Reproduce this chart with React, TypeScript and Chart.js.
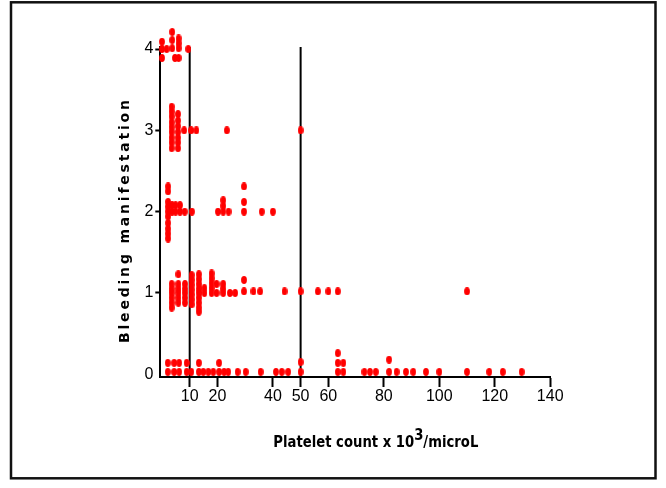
import React, { useEffect, useRef } from "react";
import { Chart, registerables } from "chart.js";

Chart.register(...registerables);

// ---- axis / labels ----
const X_TICKS = [10, 20, 40, 50, 60, 80, 100, 120, 140];
const Y_TICKS = [0, 1, 2, 3, 4];
const X_MIN = -0.6;
const X_MAX = 140;
const Y_MIN = -0.033;
const Y_MAX = 4.025;
const CUTOFF_LINES = [10, 50];
const X_TITLE_PARTS = ["Platelet count x 10", "3", "/microL"];
const Y_TITLE = "Bleeding manifestation";

// ---- data: [platelet count x10^3/microL, bleeding grade (stacked dot-plot position)] ----
const GRADE_4: [number, number][] = [
  [0, 4.09], [0, 4.0], [0, 3.89], [1.7, 4.0],
  [3.7, 4.21], [3.7, 4.11], [3.7, 4.01], [4.7, 3.89],
  [6.0, 4.13], [6.0, 4.07], [6.0, 4.01], [6.0, 3.89], [9.5, 4.0],
];
const GRADE_3: [number, number][] = [
  [3.5, 3.29], [3.5, 3.23], [3.5, 3.17], [3.5, 3.1], [3.5, 3.04], [3.5, 2.98], [3.5, 2.91], [3.5, 2.85], [3.5, 2.78],
  [5.8, 3.2], [5.8, 3.12], [5.8, 3.05], [5.8, 2.98], [5.8, 2.91], [5.8, 2.85], [5.8, 2.78],
  [8.0, 3.0], [10.5, 3.0], [12.4, 3.0], [23.4, 3.0], [50, 3.0],
];
const GRADE_2: [number, number][] = [
  [2.2, 2.31], [2.2, 2.25], [2.2, 2.12], [2.2, 2.06], [2.2, 2.0], [2.2, 1.94], [2.2, 1.86], [2.2, 1.79], [2.2, 1.73], [2.2, 1.67],
  [3.6, 2.08], [3.6, 2.0], [4.9, 2.08], [4.9, 2.0], [6.5, 2.08], [6.5, 2.0], [8.2, 2.0], [10.8, 2.0],
  [20.2, 2.0], [22.1, 2.0], [22.1, 2.07], [22.1, 2.14], [24.0, 2.0],
  [29.6, 2.31], [29.6, 2.12], [29.6, 2.0], [36, 2.0], [40, 2.0],
];
const GRADE_1: [number, number][] = [
  [3.5, 1.11], [3.5, 1.05], [3.5, 1.0], [3.5, 0.94], [3.5, 0.88], [3.5, 0.82],
  [5.9, 1.23], [5.9, 1.11], [5.9, 1.05], [5.9, 1.0], [5.9, 0.94], [5.9, 0.88],
  [8.3, 1.11], [8.3, 1.05], [8.3, 1.0], [8.3, 0.94], [8.3, 0.88],
  [10.7, 1.22], [10.7, 1.16], [10.7, 1.1], [10.7, 1.04], [10.7, 0.98], [10.7, 0.92], [10.7, 0.86],
  [13.3, 1.23], [13.3, 1.17], [13.3, 1.11], [13.3, 1.05], [13.3, 1.0], [13.3, 0.94], [13.3, 0.88], [13.3, 0.82], [13.3, 0.77],
  [15.3, 1.06], [15.3, 1.0],
  [17.9, 1.24], [17.9, 1.18], [17.9, 1.12], [17.9, 1.06], [17.9, 1.0],
  [19.7, 1.11], [19.7, 1.0],
  [22.1, 1.11], [22.1, 1.05], [22.1, 1.0],
  [24.5, 1.0], [26.4, 1.0], [29.6, 1.16], [29.6, 1.02], [33, 1.02], [35.4, 1.02],
  [44.2, 1.02], [50, 1.02], [56.2, 1.02], [60, 1.02], [63.4, 1.02], [110, 1.02],
];
const GRADE_0: [number, number][] = [
  [2.1, 0.03], [2.1, 0.14], [4.4, 0.03], [4.4, 0.14], [6.2, 0.03], [6.2, 0.14], [8.9, 0.03], [8.9, 0.14],
  [10.6, 0.03], [13.3, 0.03], [13.3, 0.14], [14.9, 0.03], [16.7, 0.03], [18.5, 0.03],
  [20.6, 0.03], [20.6, 0.14], [22.4, 0.03], [23.9, 0.03], [27.3, 0.03], [30.2, 0.03], [35.6, 0.03],
  [41.1, 0.03], [43.2, 0.03], [45.5, 0.03], [50, 0.03], [50, 0.15],
  [63.4, 0.03], [63.4, 0.14], [63.4, 0.26], [65.4, 0.03], [65.4, 0.14],
  [73, 0.03], [75, 0.03], [77.1, 0.03], [81.9, 0.03], [81.9, 0.18], [84.6, 0.03], [88, 0.03], [90.6, 0.03],
  [95.2, 0.03], [100, 0.03], [110, 0.03], [118, 0.03], [122.9, 0.03], [129.7, 0.03],
];

function makeDot(): HTMLCanvasElement {
  const c = document.createElement("canvas");
  c.width = 6;
  c.height = 8;
  const g = c.getContext("2d")!;
  g.fillStyle = "#ff0000";
  g.beginPath();
  g.ellipse(3, 4, 2.9, 3.9, 0, 0, Math.PI * 2);
  g.fill();
  return c;
}

function pickTickFont(): { family: string; size: number } {
  const g = document.createElement("canvas").getContext("2d")!;
  const t = "0123456789";
  g.font = "16px monospace";
  const base = g.measureText(t).width;
  g.font = "16px 'Liberation Sans Narrow', monospace";
  const nar = g.measureText(t).width;
  if (Math.abs(nar - base) > 0.5) return { family: "'Liberation Sans Narrow'", size: 16 };
  return { family: "'Liberation Sans', Arial, sans-serif", size: 16 };
}

const frameAndTitles = {
  id: "frameAndTitles",
  afterDraw(chart: any) {
    const ctx: CanvasRenderingContext2D = chart.ctx;
    ctx.save();
    ctx.strokeStyle = "#111";
    ctx.lineWidth = 2.5;
    ctx.strokeRect(11, 2.3, 644.5, 476);

    ctx.fillStyle = "#000";
    ctx.textAlign = "left";
    ctx.textBaseline = "alphabetic";
    // x title with superscript
    ctx.font = "bold 15px 'DejaVu Sans', sans-serif";
    const [a, b, c] = X_TITLE_PARTS;
    const wa = ctx.measureText(a).width;
    const wb = ctx.measureText(b).width;
    const wc = ctx.measureText(c).width;
    const sx = 205 / (wa + wb + wc);
    ctx.save();
    ctx.translate(273.3, 447);
    ctx.scale(sx, 1);
    ctx.fillText(a, 0, 0);
    ctx.fillText(b, wa, -7);
    ctx.fillText(c, wa + wb, 0);
    ctx.restore();

    // y title, rotated, letter-spaced
    ctx.save();
    ctx.translate(128.5, 343);
    ctx.rotate(-Math.PI / 2);
    ctx.font = "bold 14px 'DejaVu Sans', sans-serif";
    const chars = Y_TITLE.split("");
    const ws = chars.map((ch) => ctx.measureText(ch).width);
    const total = ws.reduce((s, w) => s + w, 0);
    const ls = (243 - total) / (chars.length - 1);
    let p = 0;
    chars.forEach((ch, i) => {
      ctx.fillText(ch, p, 0);
      p += ws[i] + ls;
    });
    ctx.restore();
    ctx.restore();
  },
};

export default function App() {
  const ref = useRef<HTMLCanvasElement | null>(null);

  useEffect(() => {
    if (!ref.current) return;
    const dot = makeDot();
    const tf = pickTickFont();
    const points = [...GRADE_4, ...GRADE_3, ...GRADE_2, ...GRADE_1, ...GRADE_0].map(([x, y]) => ({ x, y }));

    const chart = new Chart(ref.current, {
      type: "scatter",
      data: {
        datasets: [
          {
            label: "Patients",
            data: points,
            pointStyle: dot as any,
            pointRadius: 20,
            pointHoverRadius: 20,
            borderWidth: 0,
            clip: false as any,
            order: 0,
          },
          ...CUTOFF_LINES.map((v) => ({
            label: `cut-off ${v}`,
            data: [
              { x: v, y: Y_MIN },
              { x: v, y: Y_MAX },
            ],
            showLine: true,
            borderColor: "#000",
            borderWidth: 2,
            pointRadius: 0,
            order: 1,
          })),
        ],
      },
      options: {
        animation: false,
        responsive: false,
        events: [],
        layout: { padding: { top: 47, right: 115.8, left: 0, bottom: 0 } },
        plugins: { legend: { display: false }, tooltip: { enabled: false } },
        scales: {
          x: {
            type: "linear",
            min: X_MIN,
            max: X_MAX,
            afterBuildTicks: (s: any) => {
              s.ticks = X_TICKS.map((v) => ({ value: v }));
            },
            afterFit: (s: any) => {
              s.height = 111;
            },
            ticks: {
              font: { family: tf.family, size: tf.size },
              color: "#000",
              padding: 0,
              maxRotation: 0,
              autoSkip: false,
              callback: (v: any) => String(v),
            },
            grid: {
              display: true,
              drawOnChartArea: false,
              drawTicks: true,
              tickLength: 10,
              tickWidth: 2,
              tickColor: "#000",
            },
            border: { display: true, color: "#000", width: 2 },
          },
          y: {
            type: "linear",
            min: Y_MIN,
            max: Y_MAX,
            afterBuildTicks: (s: any) => {
              s.ticks = Y_TICKS.map((v) => ({ value: v }));
            },
            afterFit: (s: any) => {
              s.width = 160.3;
            },
            ticks: {
              font: { family: tf.family, size: tf.size },
              color: "#000",
              padding: 2,
              autoSkip: false,
              callback: (v: any) => String(v),
            },
            grid: {
              display: true,
              drawOnChartArea: false,
              drawTicks: true,
              tickLength: 5,
              tickWidth: 2,
              tickColor: (c: any) => (c.tick && c.tick.value === 0 ? "rgba(0,0,0,0)" : "#000"),
            },
            border: { display: true, color: "#000", width: 2 },
          },
        },
      },
      plugins: [frameAndTitles],
    });
    return () => chart.destroy();
  }, []);

  return (
    <div style={{ position: "fixed", left: 0, top: 0, width: 666, height: 488, background: "#fff" }}>
      <canvas ref={ref} width={666} height={488} style={{ display: "block" }} />
    </div>
  );
}
